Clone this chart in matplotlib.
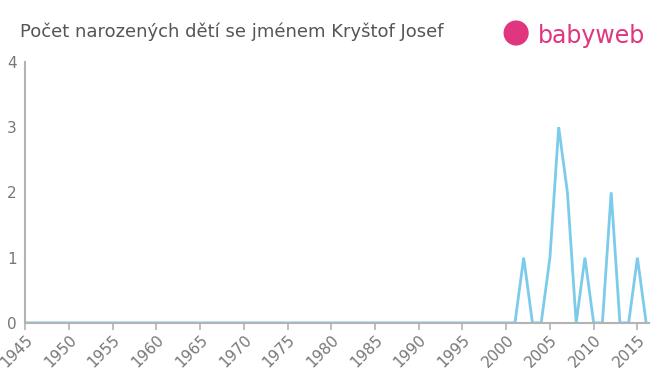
import matplotlib
matplotlib.use("Agg")
import matplotlib.pyplot as plt
from matplotlib.patches import Ellipse

years = list(range(1945, 2017))
counts_nonzero = {2002: 1, 2005: 1, 2006: 3, 2007: 2, 2009: 1, 2012: 2, 2015: 1}
values = [counts_nonzero.get(y, 0) for y in years]
xticks = list(range(1945, 2016, 5))
yticks = [0, 1, 2, 3, 4]
title = "Počet narozených dětí se jménem Kryštof Josef"

fig = plt.figure(figsize=(6.6, 3.75), dpi=100)
ax = fig.add_axes([0.038, 0.139, 0.945, 0.696])
ax.plot(years, values, color="#7ccbea", linewidth=2, solid_joinstyle="miter")
ax.set_xlim(1945, 2016.3)
ax.set_ylim(0, 4)
ax.set_xticks(xticks)
ax.set_xticklabels([str(x) for x in xticks], rotation=45, ha="right", rotation_mode="anchor")
ax.set_yticks(yticks)
for s in ["top", "right"]:
    ax.spines[s].set_visible(False)
for s in ["left", "bottom"]:
    ax.spines[s].set_color("#b3b3b3")
    ax.spines[s].set_linewidth(1.5)
ax.tick_params(axis="x", colors="#b3b3b3", labelcolor="#777777", labelsize=11, length=5, width=1.2, pad=2)
ax.tick_params(axis="y", colors="#b3b3b3", labelcolor="#777777", labelsize=11, length=0, pad=6)

fig.text(0.03, 0.915, title, fontsize=13, color="#555555", ha="left", va="center")
# logo
fig.text(0.815, 0.905, "babyweb", fontsize=17, color="#e0357f", ha="left", va="center")
circ = Ellipse((0.782, 0.912), 0.036, 0.036 * 6.6 / 3.75, transform=fig.transFigure, color="#e0357f")
fig.add_artist(circ)
fig.savefig("out.png", dpi=100)
